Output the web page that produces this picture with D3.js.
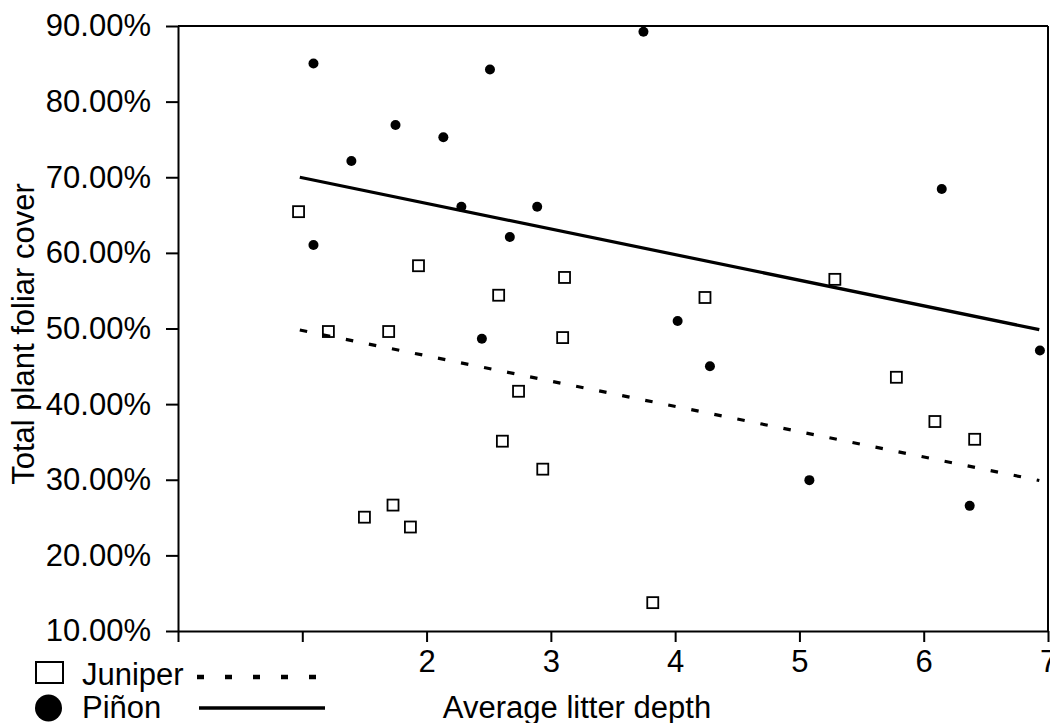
<!DOCTYPE html>
<html>
<head>
<meta charset="utf-8">
<script src="https://cdn.jsdelivr.net/npm/d3@7"></script>
<style>
  body { margin: 0; background: #fff; }
  svg text { font-family: "Liberation Sans", Arial, sans-serif; fill: #000; }
</style>
</head>
<body>
<svg id="chart" width="1050" height="723"></svg>
<script>
// litter depth (x) and foliar cover (y)
var juniperX = [0.97, 1.935, 3.11, 2.58, 4.24, 5.285, 5.78, 6.09, 6.41, 1.21, 1.695, 3.095, 2.74, 2.61, 2.935, 1.50, 1.73, 1.87, 3.82];
var juniperY = [65.45, 58.3, 56.75, 54.4, 54.1, 56.5, 43.55, 37.7, 35.35, 49.6, 49.6, 48.8, 41.7, 35.1, 31.4, 25.05, 26.65, 23.75, 13.75];

var pinonX = [1.09, 1.75, 2.135, 1.395, 2.28, 1.09, 3.745, 2.51, 2.89, 2.67, 4.02, 6.145, 6.935, 4.28, 5.08, 6.37, 2.445];
var pinonY = [85.05, 76.9, 75.3, 72.15, 66.1, 61.05, 89.25, 84.25, 66.1, 62.1, 51.0, 68.45, 47.1, 45.0, 29.95, 26.55, 48.65];

// trend line ends
var trendX = [0.98, 6.93];
var juniperTrend = [49.8, 29.9];
var pinonTrend = [70.0, 49.85];

var xTicks = [0, 1, 2, 3, 4, 5, 6, 7];
var yTicks = [10, 20, 30, 40, 50, 60, 70, 80, 90];

var svg = d3.select("#chart");
var plotLeft = 178, plotRight = 1048, plotTop = 26, plotBottom = 631;

var x = d3.scaleLinear().domain([0, 7]).range([plotLeft, plotRight]);
var y = d3.scaleLinear().domain([10, 90]).range([plotBottom, plotTop]);

//axes
var yAxis = d3.axisLeft(y)
	.tickValues(yTicks)
	.tickSize(12)
	.tickSizeOuter(0)
	.tickPadding(15)
	.tickFormat(function(d){ return d.toFixed(2) + "%"; });

var xAxis = d3.axisBottom(x)
	.tickValues(xTicks)
	.tickSize(11)
	.tickSizeOuter(0)
	.tickPadding(8)
	.tickFormat(function(d){ return d >= 2 ? d : ""; });

svg.append("g")
	.attr("transform", "translate(0," + plotBottom + ")")
	.call(xAxis);
svg.append("g")
	.attr("transform", "translate(" + plotLeft + ",0)")
	.call(yAxis);

svg.selectAll(".domain, .tick line")
	.attr("stroke", "#000")
	.attr("stroke-width", 2);
svg.selectAll(".tick text")
	.attr("font-size", 31)
	.attr("font-family", "'Liberation Sans', Arial, sans-serif");

// top and right frame
svg.append("line")
	.attr("x1", plotLeft).attr("x2", plotRight)
	.attr("y1", plotTop).attr("y2", plotTop)
	.attr("stroke", "#000").attr("stroke-width", 2);
svg.append("line")
	.attr("x1", plotRight).attr("x2", plotRight)
	.attr("y1", plotTop).attr("y2", plotBottom)
	.attr("stroke", "#000").attr("stroke-width", 2);

// juniper squares
svg.append("g")
	.selectAll("rect")
	.data(d3.range(juniperX.length))
	.enter()
	.append("rect")
	.attr("x", function(i){ return x(juniperX[i]) - 5.5; })
	.attr("y", function(i){ return y(juniperY[i]) - 5.5; })
	.attr("width", 11)
	.attr("height", 11)
	.attr("fill", "#fff")
	.attr("stroke", "#000")
	.attr("stroke-width", 1.8);

// pinon dots
svg.append("g")
	.selectAll("circle")
	.data(d3.range(pinonX.length))
	.enter()
	.append("circle")
	.attr("cx", function(i){ return x(pinonX[i]); })
	.attr("cy", function(i){ return y(pinonY[i]); })
	.attr("r", 5)
	.attr("fill", "#000");

// trend lines
var line = d3.line()
	.x(function(d){ return x(d[0]); })
	.y(function(d){ return y(d[1]); });

svg.append("path")
	.attr("d", line(d3.zip(trendX, juniperTrend)))
	.attr("fill", "none")
	.attr("stroke", "#000")
	.attr("stroke-width", 3.2)
	.attr("stroke-dasharray", "7.5,16");

svg.append("path")
	.attr("d", line(d3.zip(trendX, pinonTrend)))
	.attr("fill", "none")
	.attr("stroke", "#000")
	.attr("stroke-width", 3.2);

// axis titles
svg.append("text")
	.attr("x", 577)
	.attr("y", 718)
	.attr("text-anchor", "middle")
	.attr("font-size", 31)
	.text("Average litter depth");

svg.append("text")
	.attr("transform", "translate(34,334) rotate(-90)")
	.attr("text-anchor", "middle")
	.attr("font-size", 31)
	.text("Total plant foliar cover");

// legend
var legend = svg.append("g");
legend.append("rect")
	.attr("x", 36).attr("y", 662)
	.attr("width", 27).attr("height", 21)
	.attr("fill", "#fff")
	.attr("stroke", "#000")
	.attr("stroke-width", 2);
legend.append("text")
	.attr("x", 82).attr("y", 685)
	.attr("font-size", 31)
	.text("Juniper");
legend.append("line")
	.attr("x1", 197).attr("x2", 320)
	.attr("y1", 677).attr("y2", 677)
	.attr("stroke", "#000")
	.attr("stroke-width", 4.5)
	.attr("stroke-dasharray", "7,21");

legend.append("circle")
	.attr("cx", 48.5).attr("cy", 708)
	.attr("r", 13.5)
	.attr("fill", "#000");
legend.append("text")
	.attr("x", 82).attr("y", 718)
	.attr("font-size", 31)
	.text("Piñon");
legend.append("line")
	.attr("x1", 199).attr("x2", 325)
	.attr("y1", 708).attr("y2", 708)
	.attr("stroke", "#000")
	.attr("stroke-width", 3.5);
</script>
</body>
</html>
